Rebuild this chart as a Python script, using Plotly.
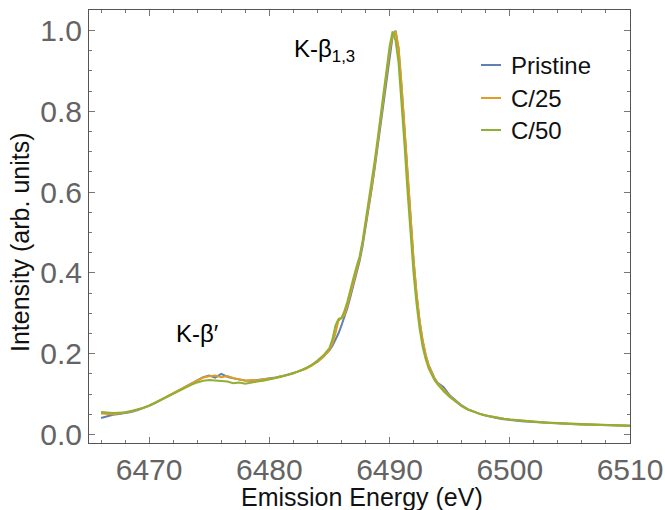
import plotly.graph_objects as go

# ---------------- data ----------------
energy = [6466.0, 6466.5, 6467.0, 6467.5, 6468.0, 6468.5, 6469.0, 6469.5, 6470.0, 6470.5,
          6471.0, 6471.5, 6472.0, 6472.5, 6473.0, 6473.5, 6474.0, 6474.5, 6475.0, 6475.5,
          6476.0, 6476.5, 6477.0, 6477.5, 6478.0, 6478.5, 6479.0, 6479.5, 6480.0, 6480.5,
          6481.0, 6481.5, 6482.0, 6482.5, 6483.0, 6483.5, 6484.0, 6484.5, 6485.0, 6485.25,
          6485.5, 6485.75, 6486.0, 6486.25, 6486.5, 6486.75, 6487.0, 6487.25, 6487.5, 6487.75,
          6488.0, 6488.25, 6488.5, 6488.75, 6489.0, 6489.25, 6489.5, 6489.75, 6490.0, 6490.25,
          6490.5, 6490.75, 6491.0, 6491.25, 6491.5, 6491.75, 6492.0, 6492.25, 6492.5, 6492.75,
          6493.0, 6493.25, 6493.5, 6493.75, 6494.0, 6494.5, 6495.0, 6495.5, 6496.0, 6496.5,
          6497.0, 6497.5, 6498.0, 6498.5, 6499.0, 6499.5, 6500.0, 6501.0, 6502.0, 6503.0,
          6504.0, 6505.0, 6506.0, 6507.0, 6508.0, 6509.0, 6510.0]

pristine = [0.041, 0.045, 0.049, 0.051, 0.053, 0.056, 0.060, 0.065, 0.071, 0.078,
            0.086, 0.094, 0.103, 0.112, 0.120, 0.128, 0.136, 0.142, 0.146, 0.141,
            0.150, 0.143, 0.139, 0.136, 0.134, 0.133, 0.135, 0.136, 0.138, 0.141,
            0.144, 0.148, 0.152, 0.157, 0.163, 0.171, 0.180, 0.193, 0.208, 0.220,
            0.234, 0.250, 0.270, 0.292, 0.314, 0.342, 0.372, 0.400, 0.428, 0.466,
            0.510, 0.556, 0.605, 0.656, 0.710, 0.766, 0.825, 0.884, 0.940, 0.985,
            1.000, 0.955, 0.860, 0.750, 0.635, 0.525, 0.430, 0.345, 0.280, 0.232,
            0.197, 0.172, 0.153, 0.139, 0.128, 0.117, 0.097, 0.085, 0.072, 0.063,
            0.056, 0.051, 0.047, 0.043, 0.040, 0.038, 0.036, 0.033, 0.031, 0.029,
            0.027, 0.026, 0.025, 0.024, 0.023, 0.022, 0.022]

c25 = [0.052, 0.051, 0.050, 0.052, 0.054, 0.057, 0.061, 0.066, 0.071, 0.079,
       0.087, 0.094, 0.102, 0.111, 0.119, 0.127, 0.134, 0.141, 0.144, 0.146,
       0.142, 0.145, 0.140, 0.137, 0.133, 0.135, 0.134, 0.137, 0.138, 0.140,
       0.145, 0.147, 0.151, 0.158, 0.162, 0.170, 0.181, 0.192, 0.210, 0.225,
       0.250, 0.282, 0.288, 0.296, 0.320, 0.348, 0.378, 0.405, 0.434, 0.472,
       0.516, 0.562, 0.610, 0.662, 0.716, 0.772, 0.832, 0.890, 0.948, 0.990,
       0.998, 0.958, 0.865, 0.755, 0.640, 0.530, 0.432, 0.348, 0.282, 0.234,
       0.198, 0.172, 0.153, 0.138, 0.127, 0.110, 0.095, 0.083, 0.071, 0.062,
       0.056, 0.051, 0.047, 0.044, 0.041, 0.039, 0.037, 0.034, 0.031, 0.029,
       0.028, 0.026, 0.025, 0.024, 0.023, 0.023, 0.022]

c50 = [0.056, 0.055, 0.053, 0.054, 0.055, 0.058, 0.062, 0.066, 0.072, 0.078,
       0.086, 0.093, 0.101, 0.109, 0.116, 0.123, 0.129, 0.133, 0.135, 0.134,
       0.133, 0.131, 0.127, 0.129, 0.126, 0.129, 0.131, 0.133, 0.136, 0.140,
       0.143, 0.147, 0.152, 0.157, 0.164, 0.172, 0.183, 0.196, 0.214, 0.236,
       0.270, 0.286, 0.289, 0.306, 0.330, 0.356, 0.388, 0.415, 0.440, 0.478,
       0.525, 0.572, 0.622, 0.675, 0.730, 0.786, 0.845, 0.905, 0.960, 0.998,
       0.975, 0.920, 0.825, 0.715, 0.600, 0.492, 0.398, 0.322, 0.262, 0.218,
       0.187, 0.164, 0.147, 0.134, 0.124, 0.107, 0.093, 0.082, 0.070, 0.062,
       0.056, 0.051, 0.047, 0.044, 0.041, 0.039, 0.037, 0.034, 0.032, 0.030,
       0.028, 0.027, 0.026, 0.025, 0.024, 0.023, 0.022]

series_names = ["Pristine", "C/25", "C/50"]
series_colors = ["#5E81B5", "#E19C24", "#8FB032"]
series_values = [pristine, c25, c50]

x_range = [6465.0, 6510.0]
y_range = [-0.021, 1.051]
x_tickvals = [6470, 6480, 6490, 6500, 6510]
y_tickvals = [0.0, 0.2, 0.4, 0.6, 0.8, 1.0]
y_ticktext = ["0.0", "0.2", "0.4", "0.6", "0.8", "1.0"]

# ---------------- figure ----------------
W, H = 665, 510
ML, MR, MT, MB = 89, 35, 10, 67
PW, PH = W - ML - MR, H - MT - MB

def px_x(p):
    return (p - ML) / PW

def px_y(p):
    return (H - MB - p) / PH

FONT = "Liberation Sans, Arial, sans-serif"
TICKCOL = "#646464"

fig = go.Figure()
for name, col, vals in zip(series_names, series_colors, series_values):
    fig.add_trace(go.Scatter(x=energy, y=vals, mode="lines", name=name,
                             line=dict(color=col, width=2), showlegend=False))

axis_common = dict(showline=True, linecolor="#555555", linewidth=1, mirror="allticks",
                   ticks="inside", ticklen=6, tickcolor="#777777", tickwidth=1,
                   showgrid=False, zeroline=False, automargin=False,
                   tickfont=dict(family=FONT, size=30, color=TICKCOL))

fig.update_xaxes(range=x_range, tickvals=x_tickvals,
                 minor=dict(ticks="inside", ticklen=3, dtick=2, tick0=6466,
                            tickcolor="#777777", showgrid=False),
                 **axis_common)
fig.update_yaxes(range=y_range, tickvals=y_tickvals, ticktext=y_ticktext,
                 minor=dict(ticks="inside", ticklen=3, dtick=0.05, tick0=0,
                            tickcolor="#777777", showgrid=False),
                 **axis_common)

annotations = [
    dict(text="Emission Energy (eV)", xref="paper", yref="paper",
         x=px_x(362), y=px_y(497), xanchor="center", yanchor="middle", showarrow=False,
         font=dict(family=FONT, size=25, color="#111111")),
    dict(text="Intensity (arb. units)", xref="paper", yref="paper",
         x=px_x(20), y=px_y(242), xanchor="center", yanchor="middle", showarrow=False,
         textangle=-90, font=dict(family=FONT, size=25, color="#111111")),
    dict(text="K-β<sub>1,3</sub>", xref="paper", yref="paper",
         x=px_x(292), y=px_y(50), xanchor="left", yanchor="middle", showarrow=False,
         font=dict(family=FONT, size=24, color="#000000")),
    dict(text="K-β′", xref="paper", yref="paper",
         x=px_x(174), y=px_y(333), xanchor="left", yanchor="middle", showarrow=False,
         font=dict(family=FONT, size=24, color="#000000")),
]

legend_rows = [65, 98, 130]
shapes = []
for name, col, row in zip(series_names, series_colors, legend_rows):
    shapes.append(dict(type="line", xref="paper", yref="paper",
                       x0=px_x(481), x1=px_x(501), y0=px_y(row), y1=px_y(row),
                       line=dict(color=col, width=2)))
    annotations.append(dict(text=name, xref="paper", yref="paper",
                            x=px_x(509), y=px_y(row), xanchor="left", yanchor="middle",
                            showarrow=False,
                            font=dict(family=FONT, size=24, color="#111111")))

fig.update_layout(width=W, height=H, margin=dict(l=ML, r=MR, t=MT, b=MB),
                  paper_bgcolor="white", plot_bgcolor="white", showlegend=False,
                  annotations=annotations, shapes=shapes)

fig.write_html("out.html", config={"displayModeBar": False},
               post_script="document.body.style.margin='0';document.body.style.padding='0';")
